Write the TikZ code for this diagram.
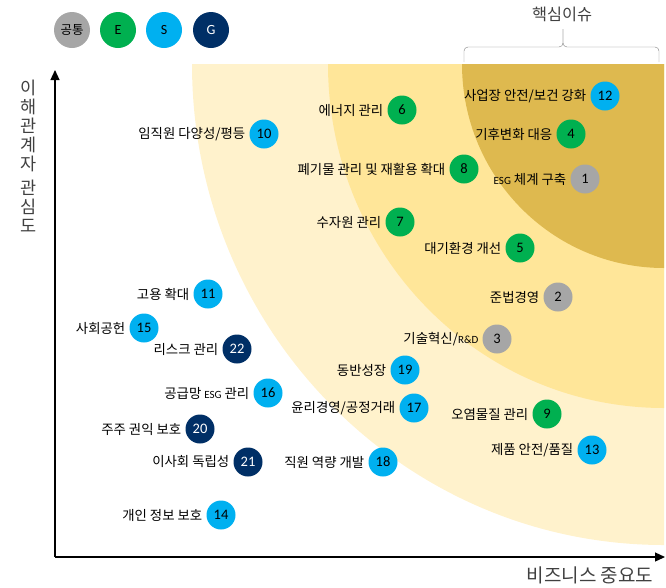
\documentclass[tikz,border=0pt]{standalone}
\usepackage{fontspec}
\setmainfont{Noto Sans CJK KR}
\newfontfamily\numfont{Carlito}
\usetikzlibrary{arrows.meta}

\definecolor{common}{HTML}{A6A6A6}
\definecolor{envgreen}{HTML}{00B050}
\definecolor{soccyan}{HTML}{00B0F0}
\definecolor{govnavy}{HTML}{002F66}
\definecolor{bandout}{HTML}{FFF2CC}
\definecolor{bandmid}{HTML}{FFE699}
\definecolor{bandin}{HTML}{DEB94F}
\definecolor{axisgray}{HTML}{404040}

\newcommand{\smalltxt}[1]{{\numfont\fontsize{11}{10}\selectfont #1}}

\begin{document}
\begin{tikzpicture}[x=1pt, y=-1pt, label distance=0.5pt]
        \tikzstyle{issue}=[circle, minimum size=29pt, inner sep=0pt,
            font=\numfont\fontsize{14.5}{14}\selectfont]
        \tikzstyle{legend}=[circle, minimum size=36pt, inner sep=0pt,
            font=\numfont\fontsize{14}{14}\selectfont]
        \tikzstyle{every label}=[font=\fontsize{13.4}{13}\selectfont]
        \tikzstyle{gcommon}=[fill=common]
        \tikzstyle{genv}=[fill=envgreen]
        \tikzstyle{gsoc}=[fill=soccyan]
        \tikzstyle{ggov}=[fill=govnavy, text=white]

        \useasboundingbox (0,0) rectangle (666,587);

	% importance bands
	\fill[bandout] (664,64) -- (192,64) arc[start angle=180, end angle=90, x radius=472, y radius=481] -- cycle;
	\fill[bandmid] (664,64) -- (328,64) arc[start angle=180, end angle=90, x radius=336, y radius=344] -- cycle;
	\fill[bandin] (664,64) -- (462,64) arc[start angle=180, end angle=90, x radius=202, y radius=204] -- cycle;

	% axes
	\coordinate (origin) at (55,557);
	\coordinate (ytip) at (55,70);
	\coordinate (xtip) at (665,557);
	\draw[line width=1.2pt, -{Triangle[length=10pt, width=9pt]}] (origin) -- (ytip);
	\draw[line width=1.2pt, -{Triangle[length=10pt, width=9pt]}] (origin) -- (xtip);
	\node[text=axisgray, font=\fontsize{17.5}{19}\selectfont, align=center, anchor=north] (ylab) at (29,76)
	    {이\\해\\관\\계\\자\\[5pt]관\\심\\도};
	\node[text=axisgray, font=\fontsize{19}{19}\selectfont] (xlab) at (590,575) {비즈니스 중요도};

	% core issues bracket
	\node[text=axisgray, font=\fontsize{16.3}{16}\selectfont] (core) at (562,14) {핵심이슈};
	\draw[gray, rounded corners=4pt] (464,62) |- (563,47) -- (563,29);
	\draw[gray, rounded corners=4pt] (659,62) |- (563,47) -- (563,29);

	% legend
        \node[legend, gcommon, font=\fontsize{12.5}{12}\selectfont] (lcm) at (72,30) {공통};
        \node[legend, genv] (lev) at (118,30) {E};
        \node[legend, gsoc] (lso) at (164,30) {S};
        \node[legend, ggov] (lgo) at (211,30) {G};

	% issues
        \node[issue, gcommon, label={left:\smalltxt{ESG} 체계 구축}] (i1) at (585,179) {1};
        \node[issue, gcommon, label={left:준법경영}] (i2) at (558,297) {2};
        \node[issue, gcommon, label={left:기술혁신/\smalltxt{R\&D}}] (i3) at (497,339) {3};
        \node[issue, genv, label={left:기후변화 대응}] (i4) at (571,134) {4};
        \node[issue, genv, label={left:대기환경 개선}] (i5) at (520,248) {5};
        \node[issue, genv, label={left:에너지 관리}] (i6) at (402,110) {6};
        \node[issue, genv, label={left:수자원 관리}] (i7) at (400,222) {7};
        \node[issue, genv, label={left:폐기물 관리 및 재활용 확대}] (i8) at (464,169) {8};
        \node[issue, genv, label={left:오염물질 관리}] (i9) at (547,414) {9};
        \node[issue, gsoc, label={left:임직원 다양성/평등}] (i10) at (264,134) {10};
        \node[issue, gsoc, label={left:고용 확대}] (i11) at (208,294) {11};
        \node[issue, gsoc, label={left:사업장 안전/보건 강화}] (i12) at (605,96) {12};
        \node[issue, gsoc, label={left:제품 안전/품질}] (i13) at (592,450) {13};
        \node[issue, gsoc, label={left:개인 정보 보호}] (i14) at (221,515) {14};
        \node[issue, gsoc, label={left:사회공헌}] (i15) at (144,328) {15};
        \node[issue, gsoc, label={left:공급망 \smalltxt{ESG} 관리}] (i16) at (268,393) {16};
        \node[issue, gsoc, label={left:윤리경영/공정거래}] (i17) at (414,408) {17};
        \node[issue, gsoc, label={left:직원 역량 개발}] (i18) at (383,462) {18};
        \node[issue, gsoc, label={left:동반성장}] (i19) at (405,370) {19};
        \node[issue, ggov, label={left:주주 권익 보호}] (i20) at (200,429) {20};
        \node[issue, ggov, label={left:이사회 독립성}] (i21) at (248,462) {21};
        \node[issue, ggov, label={left:리스크 관리}] (i22) at (237,349) {22};
    \end{tikzpicture}
\end{document}
